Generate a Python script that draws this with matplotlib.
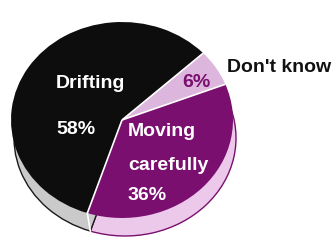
import numpy as np
import matplotlib.pyplot as plt

labels = ["Don't know", "Moving carefully", "Drifting"]
shares = [6, 36, 58]
pct_labels = ["6%", "36%", "58%"]

top_colors = ["#dcb6dc", "#7a0f6f", "#0d0d0d"]
rim_colors = ["#e8c8e6", "#ecc9ea", "#cacaca"]
rim_edges = ["#7a0f6f", "#7a0f6f", "#1a1a1a"]

# image is 335x243 px; y squeezed so the pie looks tilted
W, H = 335, 243
K = 111 / 98.0

def Y(y_img):
    return (H - y_img) * K

cx, cy = 122, 120
r = 111
depth = 18
shift = 3
start = 43

fig = plt.figure(figsize=(3.35, 2.43), dpi=100)
ax = fig.add_axes([0, 0, 1, 1])

# side of the pie (thickness)
rim, _ = ax.pie(shares, colors=rim_colors, startangle=start, counterclock=False,
                radius=r, center=(cx + shift, Y(cy + depth)),
                wedgeprops=dict(linewidth=1.0))
for w, ec in zip(rim, rim_edges):
    w.set_edgecolor(ec)

# top face
top, _ = ax.pie(shares, colors=top_colors, startangle=start, counterclock=False,
                radius=r, center=(cx, Y(cy)),
                wedgeprops=dict(linewidth=0))

# white separators between slices
bounds = start - np.cumsum([0] + shares[:-1]) / 100.0 * 360
for b in bounds:
    t = np.radians(b)
    ex, ey = cx + r * np.cos(t), Y(cy) + r * np.sin(t)
    ax.plot([cx, ex], [Y(cy), ey], color="white", lw=1.2, solid_capstyle="butt")
    if np.sin(t) < 0:
        ax.plot([ex, ex + shift], [ey, ey - depth * K], color="white", lw=1.2)

ax.set_xlim(0, W)
ax.set_ylim(0, H * K)
ax.set_aspect("auto")
ax.axis("off")

fs = 14
font = dict(family="Liberation Sans", fontweight="bold", fontsize=fs)
ax.text(56, Y(88), "Drifting", color="white", ha="left", va="baseline", **font)
ax.text(56, Y(134), pct_labels[2], color="white", ha="left", va="baseline", **font)
ax.text(128, Y(136), "Moving", color="white", ha="left", va="baseline", **font)
ax.text(128, Y(170), "carefully", color="white", ha="left", va="baseline", **font)
ax.text(128, Y(200), pct_labels[1], color="white", ha="left", va="baseline", **font)
ax.text(182, Y(87), pct_labels[0], color="#7a0f6f", ha="left", va="baseline", **font)
ax.text(227, Y(72), labels[0], color="#111111", ha="left", va="baseline", **font)

fig.savefig("out.png", dpi=100)
